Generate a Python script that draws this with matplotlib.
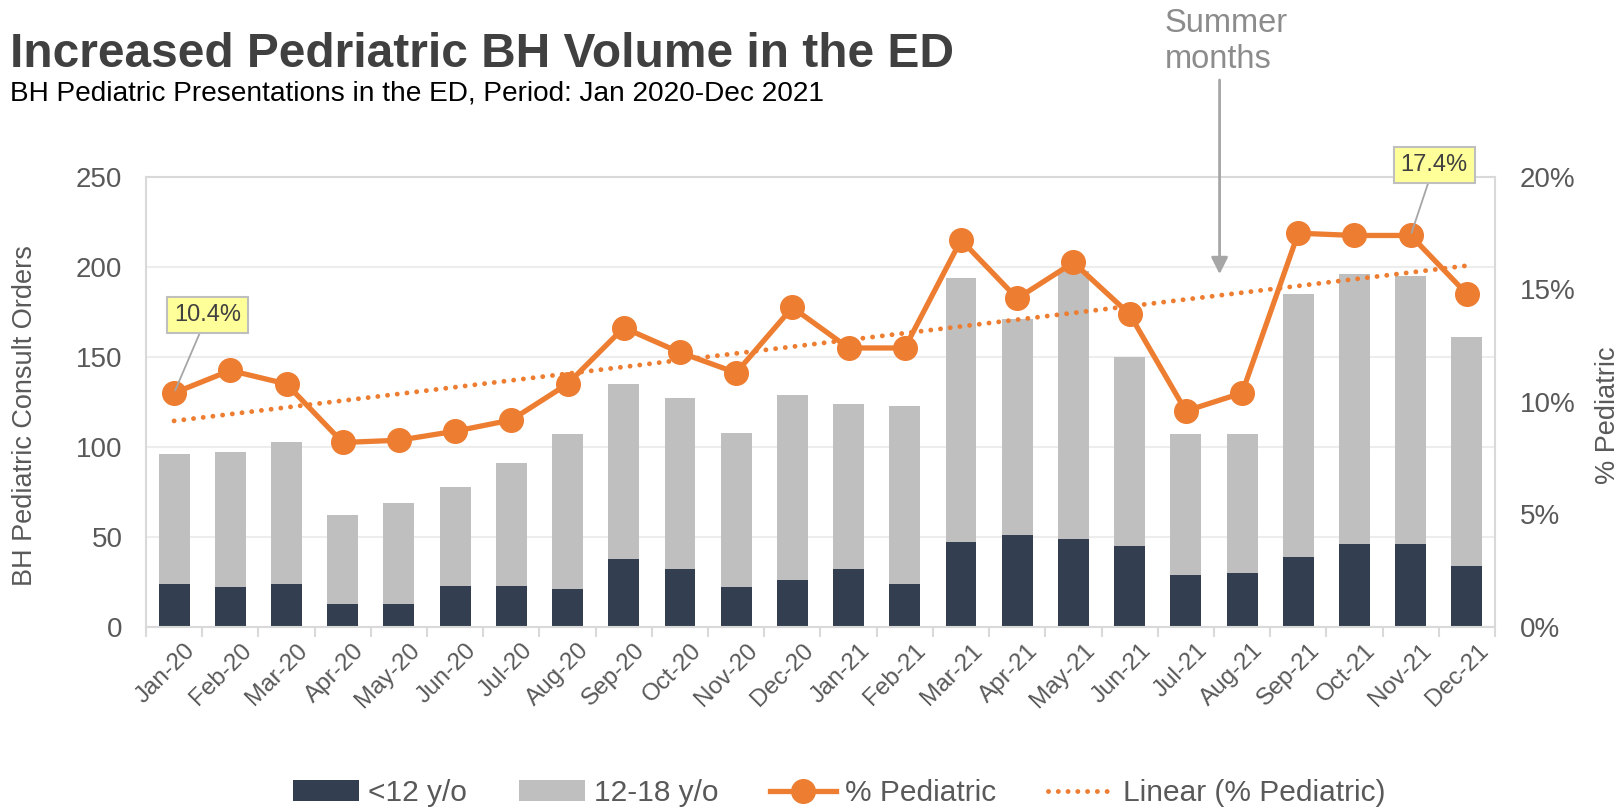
import matplotlib
matplotlib.use("Agg")
import matplotlib.pyplot as plt
import matplotlib.transforms as mtransforms
from matplotlib.ticker import FixedLocator, FuncFormatter
import numpy as np

# ---------------------------------------------------------------------------
# Data
# ---------------------------------------------------------------------------
MONTHS = ["Jan-20", "Feb-20", "Mar-20", "Apr-20", "May-20", "Jun-20",
          "Jul-20", "Aug-20", "Sep-20", "Oct-20", "Nov-20", "Dec-20",
          "Jan-21", "Feb-21", "Mar-21", "Apr-21", "May-21", "Jun-21",
          "Jul-21", "Aug-21", "Sep-21", "Oct-21", "Nov-21", "Dec-21"]

UNDER_12 = [24, 22, 24, 13, 13, 23, 23, 21, 38, 32, 22, 26,
            32, 24, 47, 51, 49, 45, 29, 30, 39, 46, 46, 34]

AGE_12_18 = [72, 75, 79, 49, 56, 55, 68, 86, 97, 95, 86, 103,
             92, 99, 147, 120, 149, 105, 78, 77, 146, 150, 149, 127]

PCT_PEDIATRIC = [10.4, 11.4, 10.8, 8.2, 8.3, 8.7, 9.2, 10.8, 13.3, 12.2, 11.3, 14.2,
                 12.4, 12.4, 17.2, 14.6, 16.2, 13.9, 9.6, 10.4, 17.5, 17.4, 17.4, 14.8]

CALLOUT_IDX = [0, 22]          # points labelled with a yellow box
SUMMER_ARROW_X = 18.6          # between Jul-21 and Aug-21
SUMMER_ARROW_Y = 196

TITLE = "Increased Pedriatric BH Volume in the ED"
SUBTITLE = "BH Pediatric Presentations in the ED, Period: Jan 2020-Dec 2021"

# ---------------------------------------------------------------------------
# Styling
# ---------------------------------------------------------------------------
DARK = "#333F50"
GRAY = "#BFBFBF"
ORANGE = "#ED7D31"
TEXT = "#595959"
FRAME = "#D9D9D9"
GRID = "#EDEDED"

plt.rcParams.update({
    "font.family": ["Liberation Sans", "DejaVu Sans"],
    "text.color": TEXT,
    "axes.labelcolor": TEXT,
    "xtick.color": TEXT,
    "ytick.color": TEXT,
})

fig = plt.figure(figsize=(16.22, 8.08), dpi=100)
ax = fig.add_axes([0.090, 0.224, 0.8317, 0.557])
ax2 = ax.twinx()

x = np.arange(len(MONTHS))
under = np.array(UNDER_12)
teen = np.array(AGE_12_18)
pct = np.array(PCT_PEDIATRIC)

b1 = ax.bar(x, under, width=0.55, color=DARK, label="<12 y/o", zorder=2)
b2 = ax.bar(x, teen, width=0.55, bottom=under, color=GRAY, label="12-18 y/o", zorder=2)

ax.set_xlim(-0.5, len(MONTHS) - 0.5)
ax.set_ylim(0, 250)
ax.set_yticks(range(0, 251, 50))
ax.set_axisbelow(True)
ax.grid(axis="y", color=GRID, linewidth=1.5)
ax.tick_params(axis="y", length=0, labelsize=20, pad=17)

ax.set_xticks(x)
ax.set_xticklabels(MONTHS, rotation=45, ha="right", va="top",
                   rotation_mode="anchor", fontsize=17.5)
ax.xaxis.set_minor_locator(FixedLocator(np.arange(-0.5, len(MONTHS), 1)))
ax.tick_params(axis="x", which="major", length=0, pad=9)
ax.tick_params(axis="x", which="minor", length=7, color=FRAME, width=1.5)
shift = mtransforms.ScaledTranslation(10 / 100, 0, fig.dpi_scale_trans)
for lab in ax.get_xticklabels():
    lab.set_transform(lab.get_transform() + shift)

for sp in ax.spines.values():
    sp.set_color(FRAME)
    sp.set_linewidth(1.5)
for sp in ax2.spines.values():
    sp.set_visible(False)

ax.set_ylabel("BH Pediatric Consult Orders", fontsize=19.5)
ax.yaxis.set_label_coords(-0.080, 0.47)

# % Pediatric on the secondary axis
line, = ax2.plot(x, pct, color=ORANGE, linewidth=3.8, marker="o",
                 markersize=17, label="% Pediatric", zorder=4)
slope, intercept = np.polyfit(x, pct, 1)
trend, = ax2.plot(x, slope * x + intercept, color=ORANGE, linewidth=3.5,
                  linestyle=(0, (0.01, 2.0)), dash_capstyle="round",
                  label="Linear (% Pediatric)", zorder=3)
ax2.set_ylim(0, 20)
ax2.set_yticks(range(0, 21, 5))
ax2.yaxis.set_major_formatter(FuncFormatter(lambda v, _: f"{v:.0f}%"))
ax2.tick_params(axis="y", length=0, labelsize=20, pad=18)
ax2.set_ylabel("% Pediatric", fontsize=19.5, rotation=90)
ax2.yaxis.set_label_coords(1.0745, 0.47)

# yellow call-out boxes
offsets = {0: (24, 56), 22: (17, 51)}
for i in CALLOUT_IDX:
    ax2.annotate(f"{pct[i]:.1f}%", xy=(x[i], pct[i]), xytext=offsets[i],
                 textcoords="offset points", ha="center", va="center",
                 fontsize=17, color="#404040", zorder=6,
                 bbox=dict(boxstyle="square,pad=0.3", fc="#FFFF99",
                           ec=GRAY, lw=1.5),
                 arrowprops=dict(arrowstyle="-", color="#A6A6A6", lw=1.3,
                                 shrinkA=0, shrinkB=2))

# summer months arrow
ax.annotate("", xy=(SUMMER_ARROW_X, SUMMER_ARROW_Y),
            xytext=(SUMMER_ARROW_X, 1 - 80 / 808),
            textcoords=("data", "figure fraction"),
            arrowprops=dict(arrowstyle="-|>", color="#A6A6A6", lw=2,
                            mutation_scale=25, shrinkA=0, shrinkB=0),
            annotation_clip=False, zorder=5)
fig.text(1165 / 1622, 1 - 32 / 808, "Summer", fontsize=23.5, color="#8C8C8C",
         ha="left", va="baseline")
fig.text(1165 / 1622, 1 - 68 / 808, "months", fontsize=23.5, color="#8C8C8C",
         ha="left", va="baseline")

# titles
fig.text(10 / 1622, 1 - 67 / 808, TITLE, fontsize=34.5, fontweight="bold",
         color="#404040", ha="left", va="baseline")
fig.text(10 / 1622, 1 - 100 / 808, SUBTITLE, fontsize=20.2, color="#000000",
         ha="left", va="baseline")

# legend
fig.legend(handles=[b1, b2, line, trend], loc="center", ncol=4,
           bbox_to_anchor=(0.5175, 1 - 793 / 808), frameon=False,
           fontsize=21.5, handlelength=2.2, handletextpad=0.3,
           columnspacing=1.75, labelcolor=TEXT)

fig.savefig("out.png", dpi=100)
